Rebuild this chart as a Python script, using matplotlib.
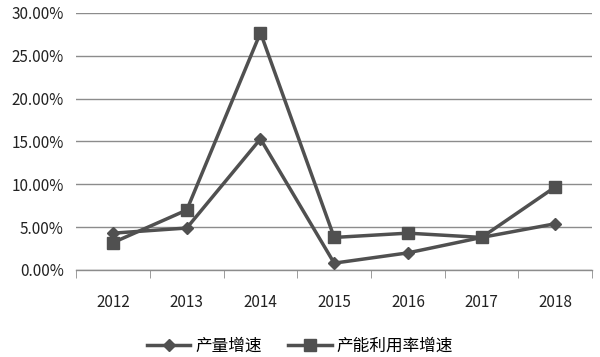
import matplotlib.pyplot as plt
import numpy as np
from matplotlib.ticker import FuncFormatter

plt.rcParams['font.family'] = ['Noto Sans CJK SC', 'DejaVu Sans']

years = ['2012', '2013', '2014', '2015', '2016', '2017', '2018']
output_growth = [4.3, 4.9, 15.3, 0.8, 2.0, 3.8, 5.4]
capacity_util_growth = [3.2, 7.0, 27.7, 3.8, 4.3, 3.8, 9.7]

line_color = '#505050'
grid_color = '#8c8c8c'

fig = plt.figure(figsize=(6, 3.57), dpi=100)
ax = fig.add_axes([0.127, 0.2437, 0.86, 0.72])

x = np.arange(len(years))
ax.plot(x, output_growth, color=line_color, lw=2.5, marker='D', ms=6, label='产量增速', zorder=3)
ax.plot(x, capacity_util_growth, color=line_color, lw=2.5, marker='s', ms=9, label='产能利用率增速', zorder=3)

ax.set_ylim(0, 30)
ax.set_yticks(np.arange(0, 31, 5))
ax.yaxis.set_major_formatter(FuncFormatter(lambda v, p: f'{v:.2f}%'))
ax.set_xlim(-0.5, len(years) - 0.5)
ax.set_xticks(x)
ax.set_xticklabels(years)
ax.set_xticks(np.arange(-0.5, len(years)), minor=True)
ax.tick_params(axis='x', which='major', length=0, pad=17, labelsize=11, colors='#222222')
ax.tick_params(axis='x', which='minor', length=6, color=grid_color, direction='out')
ax.tick_params(axis='y', length=0, pad=9, labelsize=11, colors='#222222')

ax.grid(axis='y', color=grid_color, lw=1)
ax.set_axisbelow(True)
for s in ['top', 'right', 'left']:
    ax.spines[s].set_visible(False)
ax.spines['bottom'].set_color(grid_color)
ax.spines['bottom'].set_linewidth(1)

fig.legend(loc='lower center', bbox_to_anchor=(0.5, -0.035), ncol=2, frameon=False,
           fontsize=12, handlelength=2.6, handletextpad=0.3, columnspacing=1.6)

fig.savefig('out.png', dpi=100, facecolor='white')
